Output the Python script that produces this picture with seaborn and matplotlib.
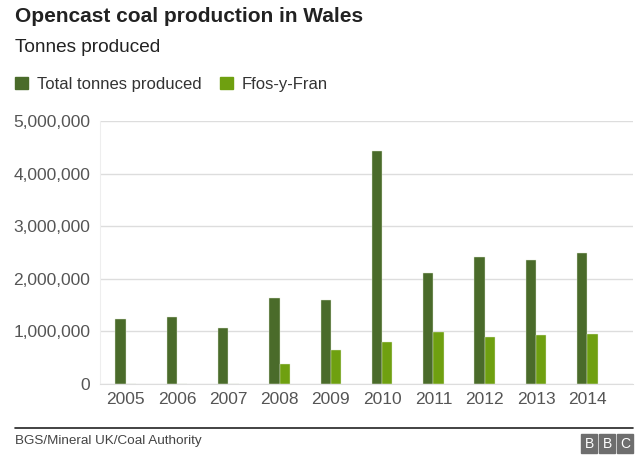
import matplotlib
matplotlib.use("Agg")
import matplotlib.pyplot as plt
import matplotlib.patches as mpatches
from matplotlib.ticker import FuncFormatter, FixedLocator
import seaborn as sns
import pandas as pd

# data
years = ["2005", "2006", "2007", "2008", "2009", "2010", "2011", "2012", "2013", "2014"]
total_tonnes = [1240000, 1265000, 1060000, 1640000, 1600000, 4425000, 2110000, 2410000, 2350000, 2490000]
ffos_y_fran = [0, 0, 0, 380000, 650000, 795000, 995000, 895000, 925000, 960000]
series_names = ["Total tonnes produced", "Ffos-y-Fran"]
colors = ["#4a6b2a", "#6fa010"]

df = pd.DataFrame({
    "year": years * 2,
    "tonnes": total_tonnes + ffos_y_fran,
    "series": [series_names[0]] * len(years) + [series_names[1]] * len(years),
})

sns.set_style("white")
plt.rcParams["font.family"] = ["Liberation Sans", "DejaVu Sans"]

fig = plt.figure(figsize=(6.4, 4.58), dpi=100)
ax = fig.add_axes([100 / 640, 1 - 384 / 458, 533 / 640, (384 - 121) / 458])

sns.barplot(data=df, x="year", y="tonnes", hue="series", palette=colors,
            width=0.4, gap=0, ax=ax, legend=False, saturation=1,
            edgecolor="#dfe8d0", linewidth=0.3)

ax.set_xlim(-0.5, 9.89)
ax.set_ylim(0, 5.0e6)
ax.set_yticks([0, 1e6, 2e6, 3e6, 4e6, 5e6])
ax.yaxis.set_major_formatter(FuncFormatter(lambda v, p: f"{int(v):,}"))
ax.grid(axis="y", color="#dddddd", linewidth=1)
ax.set_axisbelow(True)
ax.set_xlabel("")
ax.set_ylabel("")
for s in ["top", "right"]:
    ax.spines[s].set_visible(False)
ax.spines["left"].set_color("#eeeeee")
ax.spines["bottom"].set_color("#dddddd")
ax.tick_params(axis="y", length=4, color="#dddddd", labelsize=12.5, labelcolor="#555555", pad=3)
ax.tick_params(axis="x", length=0, labelsize=12.5, labelcolor="#555555", pad=6)
ax.xaxis.set_minor_locator(FixedLocator([i + 0.5 for i in range(len(years))]))
ax.tick_params(axis="x", which="minor", length=4, color="#dddddd")

fig.text(15 / 640, 1 - 16 / 458, "Opencast coal production in Wales", fontsize=15,
         fontweight="bold", color="#222222", va="center")
fig.text(15 / 640, 1 - 47 / 458, "Tonnes produced", fontsize=13.7, color="#222222", va="center")

handles = [mpatches.Patch(color=c, label=n) for c, n in zip(colors, series_names)]
fig.legend(handles=handles, loc="center left", bbox_to_anchor=(0 / 640, 1 - 84 / 458),
           ncol=2, frameon=False, fontsize=12, handlelength=0.75, handleheight=0.75,
           handletextpad=0.55, columnspacing=1.15, labelcolor="#333333")

fig.add_artist(plt.Line2D([15 / 640, 633 / 640], [1 - 428 / 458] * 2, color="#222222", linewidth=1.2))
fig.text(15 / 640, 1 - 441 / 458, "BGS/Mineral UK/Coal Authority", fontsize=9.7, color="#444444", va="center")

for i, letter in enumerate("BBC"):
    x0 = 581 + i * 18
    fig.add_artist(mpatches.Rectangle((x0 / 640, 1 - 453 / 458), 16 / 640, 19 / 458,
                                      color="#6e6e6e", transform=fig.transFigure))
    fig.text((x0 + 8) / 640, 1 - 443.5 / 458, letter, fontsize=10, color="white",
             ha="center", va="center")

fig.savefig("out.png", dpi=100)
